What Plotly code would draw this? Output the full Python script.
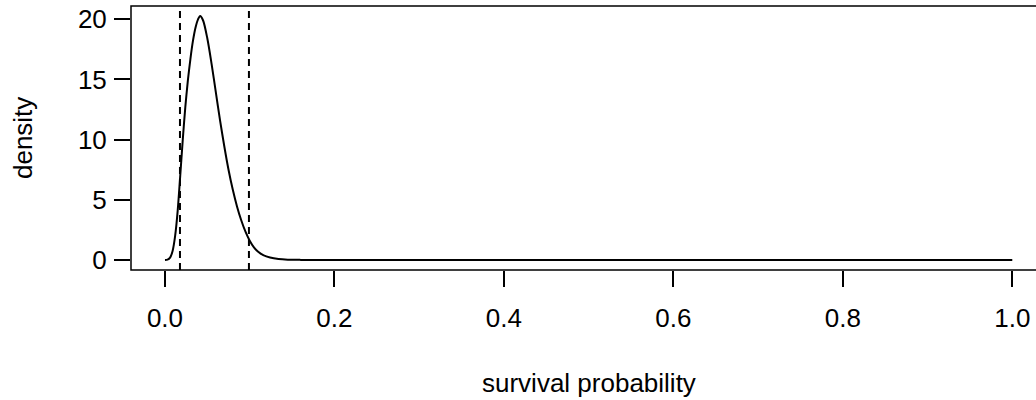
import plotly.graph_objects as go

# Density curve (survival probability vs density)
surv_x = [0.000, 0.003, 0.006, 0.009, 0.012, 0.015, 0.018, 0.021, 0.024, 0.027,
          0.030, 0.033, 0.036, 0.039, 0.0415, 0.045, 0.050, 0.055, 0.060, 0.065,
          0.070, 0.075, 0.080, 0.085, 0.090, 0.095, 0.100, 0.105, 0.110, 0.116,
          0.124, 0.134, 0.145, 0.160, 0.200, 0.400, 0.600, 0.800, 1.000]
density_y = [0.00, 0.03, 0.20, 0.75, 2.00, 4.10, 7.00, 10.0, 12.7, 14.9,
             16.7, 18.2, 19.3, 20.0, 20.27, 19.9, 18.4, 16.3, 13.95, 11.6,
             9.45, 7.5, 5.85, 4.45, 3.3, 2.35, 1.6, 1.05, 0.68, 0.40,
             0.20, 0.08, 0.03, 0.01, 0.0, 0.0, 0.0, 0.0, 0.0]
interval_bounds = [0.0177, 0.0991]

x_ticks = [0.0, 0.2, 0.4, 0.6, 0.8, 1.0]
x_tick_text = ["0.0", "0.2", "0.4", "0.6", "0.8", "1.0"]
y_ticks = [0, 5, 10, 15, 20]
y_tick_text = ["0", "5", "10", "15", "20"]

FONT = "Liberation Sans, Arial, Helvetica, sans-serif"
FS = 26

fig = go.Figure()
fig.add_trace(go.Scatter(x=surv_x, y=density_y, mode="lines",
                         line=dict(color="black", width=2, shape="spline", smoothing=0.8),
                         showlegend=False, hoverinfo="skip"))

for b in interval_bounds:
    fig.add_shape(type="line", xref="x", yref="paper", x0=b, x1=b, y0=0, y1=1,
                  line=dict(color="black", width=2, dash="7px,5px"))

# box (right edge runs past the image)
fig.add_shape(type="rect", xref="paper", yref="paper", x0=0, x1=1.05, y0=0, y1=1,
              line=dict(color="black", width=1.5), fillcolor="rgba(0,0,0,0)")

fig.update_layout(
    width=1036, height=400,
    margin=dict(l=131, r=0, t=6, b=130),
    paper_bgcolor="white", plot_bgcolor="white",
    font=dict(family=FONT, size=FS, color="black"),
    xaxis=dict(range=[-0.0401, 1.028], tickvals=x_ticks, ticktext=x_tick_text,
               ticks="outside", ticklen=16, tickwidth=1.5, tickcolor="black",
               showgrid=False, zeroline=False, showline=False,
               ticklabelstandoff=9),
    yaxis=dict(range=[-0.831, 21.105], tickvals=y_ticks, ticktext=y_tick_text,
               ticks="outside", ticklen=16, tickwidth=1.5, tickcolor="black",
               showgrid=False, zeroline=False, showline=False,
               ticklabelstandoff=2),
    annotations=[
        dict(text="survival probability", xref="x", yref="paper", x=0.5, y=-0.428,
             xanchor="center", yanchor="middle", showarrow=False,
             font=dict(family=FONT, size=FS, color="black")),
        dict(text="density", xref="paper", yref="paper", x=-0.1193, y=0.5,
             xanchor="center", yanchor="middle", textangle=-90, showarrow=False,
             font=dict(family=FONT, size=FS, color="black")),
    ],
)

fig.write_html("out.html",
               config={"displayModeBar": False},
               post_script="document.body.style.margin='0';document.body.style.padding='0';")
